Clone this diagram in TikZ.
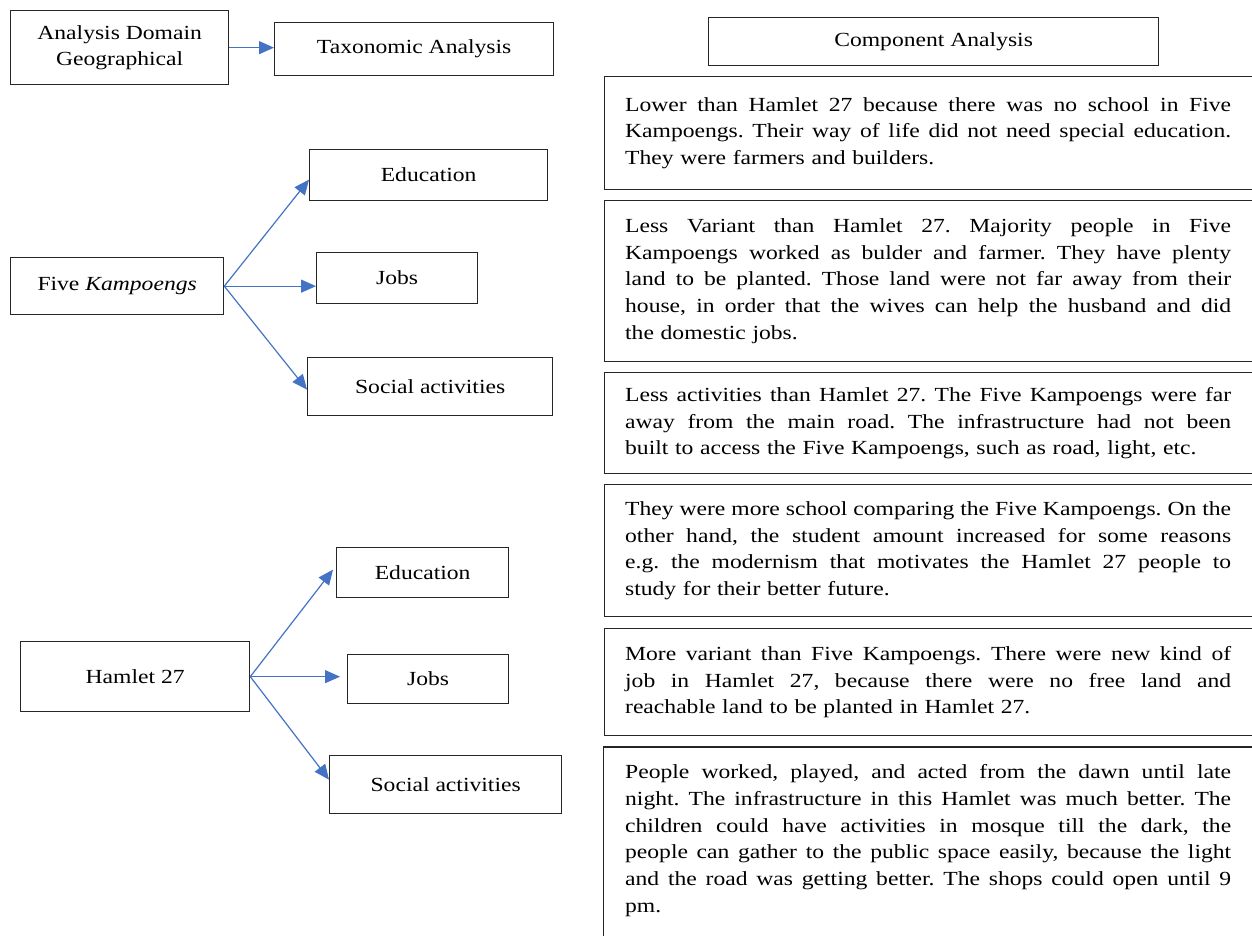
\documentclass[tikz,border=0pt]{standalone}
\usepackage{fontspec}
\setmainfont{Liberation Serif}[FakeStretch=1.18]
\usetikzlibrary{arrows.meta}
\definecolor{arrowblue}{HTML}{4472C4}
\definecolor{frameclr}{HTML}{262626}
\newcommand{\jl}[1]{\makebox[303pt][s]{\spaceskip=\fontdimen2\font plus 1fil\relax #1}}
\frenchspacing
\begin{document}
\begin{tikzpicture}[x=0.5pt,y=-0.5pt,
  boxnode/.style={draw=frameclr, line width=0.65pt, inner sep=0pt, align=center, anchor=north west,
    font=\fontsize{10}{13}\selectfont},
  parabox/.style={draw=frameclr, line width=0.65pt, anchor=north west, inner xsep=10.5pt, inner ysep=0pt,
    text width=303pt, align=left, minimum width=323.5pt,
    font=\fontsize{10}{13.35}\selectfont},
  framepath/.style={draw=frameclr, line width=0.65pt},
  arrowline/.style={draw=arrowblue, line width=0.6pt, -{Triangle[length=7.5pt,width=6.5pt]}}]
\useasboundingbox (0,0) rectangle (1252,936);
\clip (0,0) rectangle (1252,936);

% top row
\node[boxnode, minimum width=109pt, minimum height=37pt] (ad) at (10,10) {Analysis Domain\\Geographical};
\node[boxnode, minimum width=139.5pt, minimum height=26.5pt] (tax) at (274,22) {Taxonomic Analysis};
\node[boxnode, minimum width=225pt, minimum height=24pt] (comp) at (708,17) {Component Analysis};

% Five Kampoengs
\node[boxnode, minimum width=119pt, minimum height=25.5pt] (edu1) at (309,149) {Education};
\node[boxnode, minimum width=106.5pt, minimum height=28.5pt] (fk) at (10,257) {Five \textit{Kampoengs}};
\node[boxnode, minimum width=80.5pt, minimum height=25.5pt] (jobs1) at (316,252) {Jobs};
\node[boxnode, minimum width=122.5pt, minimum height=29pt] (soc1) at (307,357) {Social activities};

% Hamlet 27
\node[boxnode, minimum width=86pt, minimum height=25pt] (edu2) at (336,547) {Education};
\node[boxnode, minimum width=114.5pt, minimum height=35pt] (ham) at (20,641) {Hamlet 27};
\node[boxnode, minimum width=80.5pt, minimum height=24.5pt] (jobs2) at (347,654) {Jobs};
\node[boxnode, minimum width=116pt, minimum height=29pt] (soc2) at (329,755) {Social activities};

% text boxes
\node[parabox, minimum height=56.5pt] (t1) at (603.5,76) {%
\jl{Lower than Hamlet 27 because there was no school in Five}\\
\jl{Kampoengs. Their way of life did not need special education.}\\
They were farmers and builders.};

\node[parabox, minimum height=80.5pt] (t2) at (603.5,200) {%
\jl{Less Variant than Hamlet 27. Majority people in Five}\\
\jl{Kampoengs worked as bulder and farmer. They have plenty}\\
\jl{land to be planted. Those land were not far away from their}\\
\jl{house, in order that the wives can help the husband and did}\\
the domestic jobs.};

\node[parabox, minimum height=50.5pt] (t3) at (603.5,372) {%
\jl{Less activities than Hamlet 27. The Five Kampoengs were far}\\
\jl{away from the main road. The infrastructure had not been}\\
built to access the Five Kampoengs, such as road, light, etc.};

\node[parabox, minimum height=66pt] (t4) at (603.5,484) {%
\jl{They were more school comparing the Five Kampoengs. On the}\\
\jl{other hand, the student amount increased for some reasons}\\
\jl{e.g. the modernism that motivates the Hamlet 27 people to}\\
study for their better future.};

\node[parabox, minimum height=53.5pt] (t5) at (603.5,628) {%
\jl{More variant than Five Kampoengs. There were new kind of}\\
\jl{job in Hamlet 27, because there were no free land and}\\
reachable land to be planted in Hamlet 27.};

\node[parabox, draw=none, minimum height=93pt] (t6) at (603.5,747) {%
\jl{People worked, played, and acted from the dawn until late}\\
\jl{night. The infrastructure in this Hamlet was much better. The}\\
\jl{children could have activities in mosque till the dark, the}\\
\jl{people can gather to the public space easily, because the light}\\
\jl{and the road was getting better. The shops could open until 9}\\
pm.};
\draw[framepath] ([yshift=-20pt]t6.south west) -- (t6.north west) -- ([xshift=20pt]t6.north east);

% connectors
\draw[arrowline] (ad.east) -- (ad.east -| tax.west);
\draw[arrowline] (fk.east) -- ([yshift=-2.25pt]edu1.west);
\draw[arrowline] (fk.east) -- (fk.east -| jobs1.west);
\draw[arrowline] (fk.east) -- ([yshift=-1.5pt]soc1.west);
\draw[arrowline] (ham.east) -- ([xshift=-1.5pt,yshift=1.5pt]edu2.west);
\draw[arrowline] (ham.east) -- ([xshift=-3.5pt]ham.east -| jobs2.west);
\draw[arrowline] (ham.east) -- ([yshift=2.5pt]soc2.west);
\end{tikzpicture}
\end{document}
